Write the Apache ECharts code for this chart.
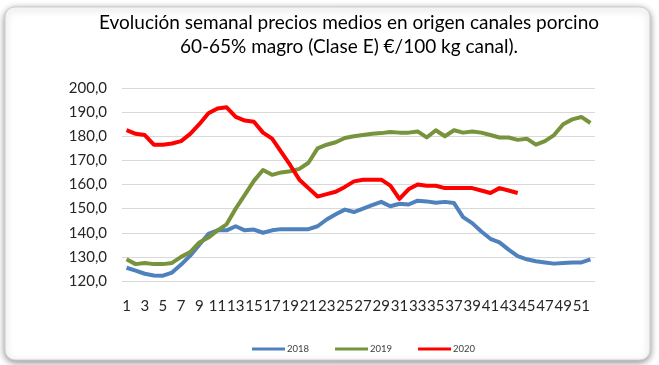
<!DOCTYPE html>
<html>
<head>
<meta charset="utf-8">
<script src="https://cdn.jsdelivr.net/npm/echarts@6/dist/echarts.min.js"></script>
<style>
  html, body { margin: 0; padding: 0; background: #ffffff; }
  #chart { width: 659px; height: 365px; }
</style>
</head>
<body>
<div id="chart"></div>
<script>
// Weeks of the year
const weeks = Array.from({ length: 52 }, (_, i) => String(i + 1));

// Average weekly price, pig carcasses 60-65% lean (class E), €/100 kg
const prices2018 = [125.5, 124.3, 123, 122.3, 122.2, 123.5, 126.8, 130.5, 135, 139.5,
  141, 141, 142.7, 141, 141.3, 140, 141, 141.5, 141.5, 141.5,
  141.5, 142.7, 145.5, 147.7, 149.6, 148.6, 150, 151.4, 152.8, 151,
  152, 151.7, 153.3, 153, 152.4, 152.8, 152.3, 146.5, 144, 140.5,
  137.5, 136, 133, 130.3, 129, 128.2, 127.7, 127.2, 127.5, 127.7, 127.7, 129];

const prices2019 = [129, 127, 127.5, 127, 127, 127.5, 130, 132, 136, 138,
  141, 143.5, 150, 155.7, 161.5, 166, 164, 165, 165.5, 166.5,
  169, 175, 176.5, 177.5, 179.3, 180, 180.5, 181, 181.3, 181.8,
  181.5, 181.5, 182, 179.5, 182.5, 180, 182.5, 181.5, 182, 181.5,
  180.5, 179.5, 179.5, 178.5, 179, 176.5, 178, 180.5, 185, 187, 188, 185.5];

const prices2020 = [182.5, 181, 180.5, 176.5, 176.5, 177, 178, 181, 185, 189.5,
  191.5, 192, 188, 186.5, 186, 181.5, 179, 173.5, 168, 162,
  158.5, 155, 156, 157, 159, 161.3, 162, 162, 162, 159.5,
  154, 158, 160, 159.5, 159.5, 158.5, 158.5, 158.5, 158.5, 157.5,
  156.5, 158.5, 157.5, 156.5];

const seriesNames = ['2018', '2019', '2020'];
const seriesColors = ['#4f81bd', '#77933c', '#ff0000'];
const seriesData = [prices2018, prices2019, prices2020];

const FONT = 'Lato, "Open Sans", sans-serif';

const chart = echarts.init(document.getElementById('chart'), null, { renderer: 'canvas' });

chart.setOption({
  backgroundColor: 'transparent',
  animation: false,
  graphic: [{
    type: 'rect',
    z: -10,
    shape: { x: 5, y: 7, width: 645, height: 353, r: 10 },
    style: {
      fill: '#ffffff',
      stroke: '#cfcfcf',
      lineWidth: 1,
      shadowBlur: 7,
      shadowColor: 'rgba(0,0,0,0.45)',
      shadowOffsetX: 0,
      shadowOffsetY: 2
    }
  }],
  title: {
    text: 'Evolución semanal precios medios en origen canales porcino\n60-65% magro (Clase E) €/100 kg canal).',
    left: 349,
    top: 11,
    textAlign: 'center',
    padding: 0,
    textStyle: {
      fontFamily: FONT,
      fontSize: 19,
      fontWeight: 'normal',
      color: '#000000',
      lineHeight: 24
    }
  },
  legend: {
    data: seriesNames,
    left: 252,
    top: 344,
    padding: 0,
    icon: 'rect',
    itemWidth: 33,
    itemHeight: 3,
    itemGap: 26,
    textStyle: { fontFamily: FONT, fontSize: 9.5, color: '#404040', padding: [0, 0, 0, -3] }
  },
  grid: { left: 122, right: 64, top: 88, bottom: 84, containLabel: false },
  xAxis: {
    type: 'category',
    data: weeks,
    boundaryGap: true,
    axisLine: { show: false },
    axisTick: { show: false },
    axisLabel: {
      interval: 1,
      margin: 18,
      fontFamily: FONT,
      fontSize: 15,
      color: '#262626'
    }
  },
  yAxis: {
    type: 'value',
    min: 120,
    max: 200,
    interval: 10,
    axisLine: { show: false },
    axisTick: { show: false },
    splitLine: { lineStyle: { color: '#d9d9d9', width: 1 } },
    axisLabel: {
      margin: 15,
      fontFamily: FONT,
      fontSize: 15,
      color: '#262626',
      formatter: v => v.toFixed(1).replace('.', ',')
    }
  },
  series: seriesNames.map((name, i) => ({
    name: name,
    type: 'line',
    data: seriesData[i],
    symbol: 'none',
    smooth: false,
    color: seriesColors[i],
    lineStyle: { width: 4, color: seriesColors[i], join: 'round' }
  }))
});
</script>
</body>
</html>
